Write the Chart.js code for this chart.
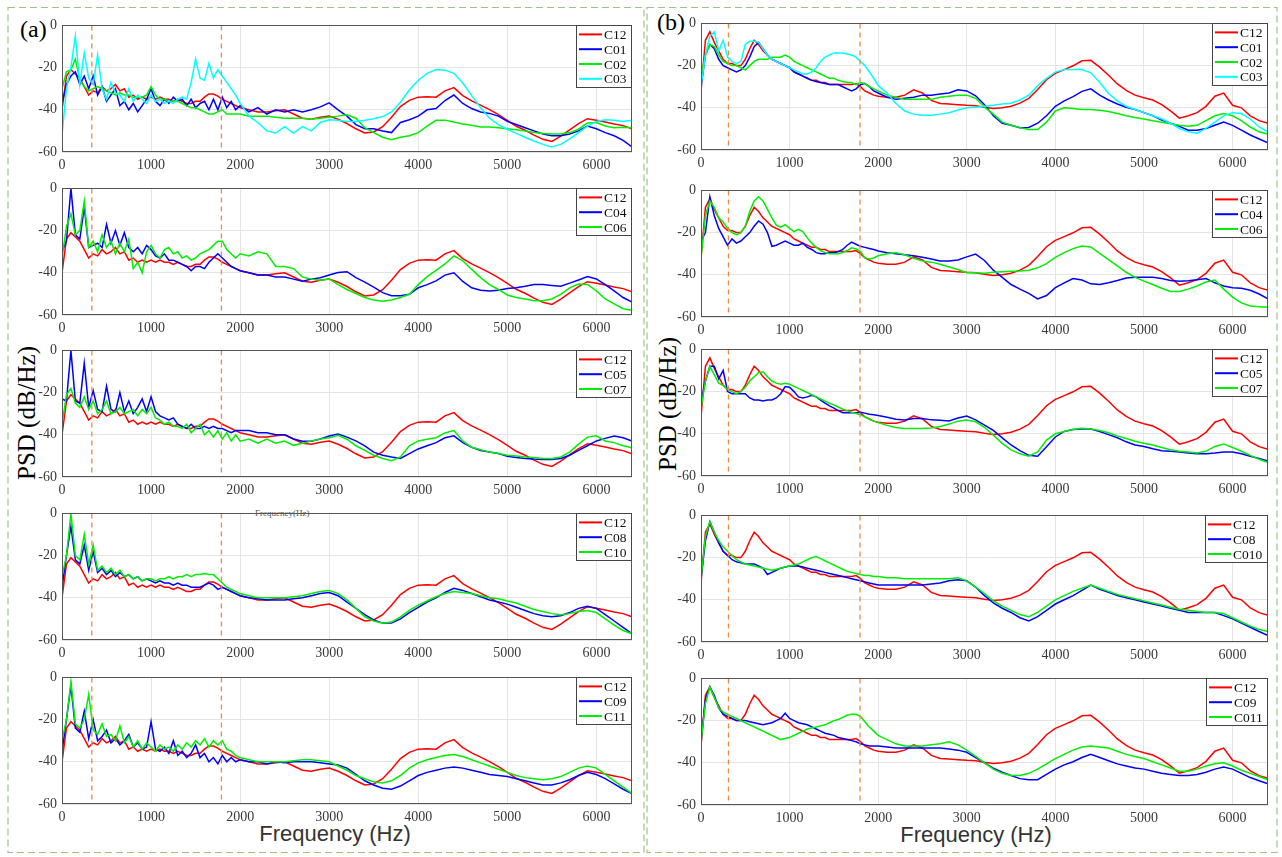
<!DOCTYPE html>
<html><head><meta charset="utf-8">
<script src="https://cdn.jsdelivr.net/npm/chart.js@4.4.1/dist/chart.umd.min.js"></script>
<style>
html,body{margin:0;padding:0;background:#fff;}
#wrap{position:relative;width:1282px;height:857px;overflow:hidden;background:#fff;}
canvas{position:absolute;}
.t{position:absolute;font-family:"Liberation Serif","Times New Roman",serif;color:#000;white-space:nowrap;line-height:1;}
.s{position:absolute;font-family:"Liberation Sans",Arial,sans-serif;color:#333;white-space:nowrap;line-height:1;}
</style></head><body><div id="wrap">
<svg width="1282" height="857" style="position:absolute;left:0;top:0">
<rect x="8" y="7.5" width="636" height="845" fill="none" stroke="#9dc386" stroke-width="1.2" stroke-dasharray="7,4"/>
<rect x="647" y="7.5" width="630" height="845" fill="none" stroke="#9dc386" stroke-width="1.2" stroke-dasharray="7,4"/>
</svg>
<div class="t" style="left:20px;top:17px;font-size:24px;">(a)</div>
<div class="t" style="left:657px;top:10px;font-size:24px;">(b)</div>
<div class="t" style="left:26px;top:413px;font-size:25px;transform:translate(-50%,-50%) rotate(-90deg);">PSD (dB/Hz)</div>
<div class="t" style="left:667px;top:404px;font-size:25px;transform:translate(-50%,-50%) rotate(-90deg);">PSD (dB/Hz)</div>
<div class="s" style="left:335px;top:834px;font-size:22px;transform:translate(-50%,-50%);">Frequency (Hz)</div>
<div class="s" style="left:976px;top:835px;font-size:22px;transform:translate(-50%,-50%);">Frequency (Hz)</div>
<div class="t" style="left:255px;top:509px;font-size:9px;color:#555;">Frequency(Hz)</div>
</div>
<script>
// ---------------- DATA ----------------
const freq = [0,50,100,150,200,250,300,350,400,450,500,550,600,650,700,750,800,850,900,950,
  1000,1050,1100,1150,1200,1250,1300,1350,1400,1450,1500,1550,1600,1650,1700,1750,1800,1850,1900,1950,2000,
  2100,2200,2300,2400,2500,2600,2700,2800,2900,3000,3100,3200,3300,3400,3500,3600,3700,3800,3900,4000,
  4100,4200,4300,4400,4500,4600,4700,4800,4900,5000,5100,5200,5300,5400,5500,5600,5700,5800,5900,6000,
  6100,6200,6300,6400];
const xTicks = [0,1000,2000,3000,4000,5000,6000];
const yTicks = [-60,-40,-20,0];
const markerA = [335, 1790];
const markerB = [310, 1795];

// panel (a)
const c12a = [-40,-24,-21,-23,-25,-29,-33,-31,-32,-29, -31,-30,-28,-31,-30,-34,-33,-35,-34,-35,
  -34,-35,-34,-35,-35,-36,-35,-36,-37,-37, -36,-36,-34,-32.5,-32.5,-33.5,-35,-36,-37,-38, -39,
  -40,-41,-41,-40.5,-40,-42,-44,-44.5,-43.5,-43, -44.5,-46.5,-49,-51,-50.5,-48,-43.5,-38.5,-35.5,-34,
  -33.8,-34,-31,-29.5,-33.3,-35.8,-37.8,-39.9,-42.3,-45, -47.8,-49.7,-52,-54,-55,-52.5,-49.5,-46.5,-44.2,-45,
  -45.8,-46.7,-47.5,-49];
const c01a = [-37,-28,-24,-22,-28,-24,-30,-24,-33,-29, -36,-33,-30,-38,-36,-40,-37,-41,-38,-35,
  -30,-36,-38,-35,-37,-34,-36,-35,-38,-35, -39,-37,-36,-40,-35,-40,-34,-39,-36,-40, -38,
  -41,-39,-42,-40,-41,-40,-41,-40,-38.6,-36.7, -40,-43,-47,-49,-49,-50,-50.8,-46,-44.7,-43,
  -40,-39.4,-35.6,-33,-37,-39.4,-41,-41.7,-43,-45.5, -47,-48.5,-50,-51.5,-52.3,-52.3,-51.5,-50,-47.7,-49,
  -50.8,-52.3,-54.5,-57.6];
const c02a = [-30,-22,-21,-16,-26,-29,-31,-30,-29,-30, -31,-32,-33,-32,-33,-33,-34,-34,-34,-33,
  -29,-33,-35,-35,-36,-36,-36,-37,-38,-39, -39,-40,-41,-42,-42,-41,-40,-42,-42,-42, -42,
  -43,-43,-43,-43.5,-44,-44,-44,-44.5,-44,-43.5, -43,-42.4,-44,-48.5,-50.8,-53,-54.2,-53,-52.3,-50.8,
  -47.7,-45,-44.9,-45.8,-46.7,-47.3,-48.2,-48.2,-48.5,-49, -49.5,-50,-50.8,-51.2,-51.5,-51.5,-50.8,-49.2,-46.2,-46,
  -47.7,-48.5,-48.3,-48.5];
const c03a = [-52,-30,-20,-5,-28,-13,-25,-28,-14,-30, -35,-27,-32,-33,-36,-30,-36,-33,-35,-37,
  -33,-36,-35,-37,-36,-37,-35,-34,-35,-27, -16,-25,-26,-18,-25,-21,-24,-27,-30,-33, -37,
  -43,-46,-50,-51,-48,-51,-48,-50,-46,-44.7, -45,-45.5,-45.5,-45,-44.2,-43.2,-41,-36.4,-30.6,-26,
  -22.7,-20.9,-21.2,-22.7,-27.3,-33.3,-39,-44,-47,-49.2, -51.2,-53,-54.8,-56.4,-57.6,-56.4,-53.8,-50.8,-47.7,-45.5,
  -44.7,-45,-45.5,-45];
const c04a = [-30,-25,0,-22,-24,-9,-28,-27,-26,-28, -17,-26,-20,-27,-21,-28,-30,-28,-31,-27,
  -29,-32,-33,-31,-34,-34,-35,-36,-37,-39, -37,-37,-38,-35,-33,-31,-33,-35,-37,-38, -39,
  -40,-41,-41,-42,-42,-43,-44,-43,-42.3,-41, -39.9,-39.5,-42.3,-44.4,-46.8,-49.4,-50.9,-50.9,-50.2,-47.1,
  -45.6,-43.8,-41.1,-40,-44.1,-47.1,-48.3,-48.6,-48.3,-47.4, -47.1,-46.4,-45.6,-45.6,-46,-46.4,-44.9,-43.4,-41.8,-42.9,
  -45.6,-48.6,-51.7,-53.9];
const c06a = [-33,-18,-12,-22,-20,-6,-28,-25,-30,-22, -28,-25,-31,-26,-30,-24,-38,-35,-40,-30,
  -27,-31,-33,-29,-28,-31,-30,-33,-32,-34, -33,-31,-30,-29,-27,-25,-25,-29,-31,-33, -31,
  -32,-30,-31,-37,-37,-38,-42,-43,-43.5,-42.9, -45.6,-47.9,-49.8,-51.7,-52.9,-53.5,-52.9,-51.7,-50.2,-45.6,
  -41.8,-38.8,-35.8,-32,-34.3,-38.4,-42.3,-45.6,-47.9,-50.5, -51.7,-52.4,-53.2,-53.2,-52.4,-50.2,-47.1,-45.3,-45.5,-48.6,
  -52.4,-54.7,-57,-57.7];
const c05a = [-23,-24,0,-24,-25,-6,-27,-19,-28,-29, -17,-28,-29,-20,-29,-24,-30,-27,-23,-29,
  -22,-29,-31,-32,-33,-32,-35,-36,-37,-35, -37,-37,-36,-37,-36,-37,-37,-38,-39,-38, -38,
  -38,-39,-39,-40,-40,-42,-43,-43,-42,-40.6, -39.6,-41.1,-42.9,-45.2,-48.2,-49.7,-50.5,-51.2,-48.9,-46.7,
  -45.2,-43.7,-41.4,-40.5,-43.7,-45.9,-47.4,-48.2,-48.9,-50.2, -50.8,-51.2,-51.5,-51.7,-51.7,-51.2,-49.7,-47.4,-45.2,-42.9,
  -41.7,-40.6,-41.4,-43];
const c07a = [-35,-21,-18,-25,-27,-22,-28,-24,-30,-28, -24,-30,-29,-27,-30,-29,-28,-31,-28,-30,
  -27,-32,-33,-35,-34,-36,-36,-37,-35,-39, -37,-35,-40,-38,-41,-38,-42,-39,-43,-40, -43,
  -42,-44,-42,-44,-43,-45,-44,-43,-42,-41.4, -40.2,-42.1,-45.2,-47.4,-49.7,-51.2,-52.3,-50.5,-45.2,-42.9,
  -42.1,-41.4,-39.1,-38,-42.9,-45.9,-47.1,-48.2,-48.9,-49.7, -50.1,-50.5,-50.8,-51.2,-51.2,-50.5,-48.2,-44.4,-41.1,-40.5,
  -42.9,-43.7,-45.2,-46.2];
const c08a = [-35,-20,-6,-22,-24,-15,-27,-18,-28,-26, -29,-27,-30,-28,-30,-29,-31,-30,-32,-31,
  -32,-33,-32,-33,-33,-34,-33,-34,-34,-35, -35,-35,-34,-33,-34,-36,-35,-36,-37,-38, -39,
  -40,-40.5,-41,-41,-41,-40.5,-40,-39,-38,-37.5, -39,-42,-45,-48,-50.5,-52,-52,-50,-47,-44.5,
  -42,-40,-37.5,-35.5,-36.5,-38,-39.5,-41,-42,-43, -44.5,-46,-47.5,-48.5,-49,-48.5,-47,-45,-44,-45,
  -48,-51,-54,-57];
const c10a = [-30,-20,0,-20,-22,-10,-24,-15,-27,-25, -28,-26,-29,-27,-30,-29,-31,-30,-32,-31,
  -31,-32,-31,-31,-30,-31,-30,-30,-29,-30, -29,-29,-28.5,-29,-29,-31,-33,-35,-36,-37, -38,
  -39,-40,-40,-40,-40,-39.5,-39,-38,-37,-36.5, -38,-41,-45,-49,-51,-52,-51.5,-49,-46,-43.5,
  -41.5,-39.5,-38,-37,-37.5,-38,-39,-40,-40.5,-41.5, -42.5,-44,-45.5,-46.5,-47.5,-48,-47.5,-46.5,-46,-47,
  -50,-53,-55.5,-57];
const c09a = [-35,-20,-4,-24,-26,-16,-29,-20,-30,-28, -25,-31,-29,-32,-30,-27,-33,-31,-34,-33,
  -21,-34,-35,-33,-36,-30,-37,-35,-38,-36, -32,-38,-36,-40,-38,-41,-37,-40,-38,-40, -39,
  -40,-40,-41,-40,-40.5,-40,-40,-40,-40.5,-41, -41.5,-43,-46,-49,-51,-52.5,-53,-51.5,-49,-46.5,
  -45,-44,-43,-42.5,-43,-44,-45,-46,-46.5,-47, -48,-49,-50,-51,-51,-50,-48.5,-46.5,-45,-46,
  -48,-50.5,-53,-55];
const c11a = [-30,-20,-2,-22,-24,-20,-8,-25,-27,-22, -28,-27,-30,-23,-31,-28,-33,-30,-34,-31,
  -33,-35,-32,-34,-33,-35,-32,-34,-31,-33, -30,-32,-29,-33,-30,-32,-30,-34,-35,-37, -38,
  -39,-40,-40,-40,-40,-39.5,-39,-39,-39.5,-40, -42,-44,-46.5,-48,-49.5,-50,-49,-46.5,-43,-40.5,
  -39,-38,-37,-36.5,-37.5,-39,-40.5,-42,-43.5,-45, -46.5,-47.5,-48,-48.5,-48,-47,-45,-43,-42,-43,
  -46,-49,-52,-55];

// panel (b)
const c12b = [-32,-8,-4,-9,-13,-17,-19,-19,-20,-20, -17,-12,-8,-10,-13,-15,-17,-18,-19,-20,
  -21,-23,-24,-25,-26,-27,-27,-28,-28,-29, -29,-29,-29,-29,-29,-28.5,-30,-32,-33,-34, -34.5,
  -35,-35,-34,-31.5,-33,-36.5,-38,-38.2,-38.5,-38.8, -39,-39.7,-40.3,-40,-39.3,-37.8,-35.5,-31.3,-26.7,-23.7,
  -21.9,-20.1,-17.7,-17.5,-20.7,-24.6,-28.7,-31.7,-34,-35.2, -36.3,-38.5,-41.5,-44.9,-43.8,-42.3,-39.3,-34.5,-33,-38.8,
  -40,-43.8,-46.1,-47.3];
const c01b = [-30,-15,-10,-12,-17,-20,-21,-22,-23,-22, -20,-16,-11,-9,-12,-15,-17,-18,-19,-20,
  -21,-23,-24,-25,-26,-27,-27.5,-28,-28.5,-29, -29,-29,-30,-31,-32,-31,-29,-28.5,-30,-32, -33,
  -35,-36,-35.5,-35,-34,-34,-33.5,-33,-31.5,-32, -34.3,-38.5,-43.8,-47.3,-48.3,-49.5,-49.3,-47.3,-43.8,-39.3,
  -36.7,-34.7,-32.2,-31,-34,-36.3,-38.2,-39.7,-40.8,-42.3, -43.8,-45.8,-47.3,-48.8,-50.6,-50.6,-49.8,-48.3,-46.8,-48.3,
  -50.6,-52.9,-54.8,-56.6];
const c02b = [-25,-15,-10,-11,-15,-18,-19,-20,-20,-21, -22,-20,-18,-17,-17,-17,-16,-16,-16,-15,
  -16,-18,-19,-20,-21,-22,-23,-24,-25,-26, -26,-27,-27.5,-28,-28,-29,-28,-28.5,-30,-31, -32,
  -34,-35,-36,-36,-36,-36,-35,-34.5,-34,-34, -35.5,-39.7,-43,-46.8,-48.3,-49.4,-50.3,-50.3,-46.8,-41.5,
  -40,-40.3,-40.8,-40.8,-41.2,-41.8,-42.7,-43.8,-44.6,-45.3, -46.1,-46.8,-47.6,-48.3,-48.8,-48.3,-46.1,-43.8,-42.7,-43.8,
  -46.1,-49.1,-51.4,-52.4];
const c03b = [-30,-15,-6,-4,-13,-8,-16,-18,-19,-18, -10,-8.5,-8.5,-9,-12,-15,-17,-18,-19,-20,
  -21,-22,-23,-24,-24,-23,-21,-18,-16,-15, -14,-14,-14,-14.5,-15,-16,-18,-20,-23,-26, -29.5,
  -33,-38,-41.5,-43,-43.5,-43.5,-43,-42.3,-41,-40, -39.7,-39.3,-38.8,-38.2,-37.8,-36.3,-34,-29.5,-26.1,-23.1,
  -21.9,-21.9,-21.9,-23.4,-27.9,-33.2,-36.7,-39.3,-40.8,-42.3, -43.8,-45.3,-47.3,-49.8,-51.4,-52,-49.8,-46.8,-43.8,-42.3,
  -42.7,-45.3,-49.1,-51.4];
const c04b = [-24,-20,-3,-12,-18,-22,-26,-23,-25,-24, -22,-20,-17,-14.5,-16,-20,-26.5,-26,-25,-24,
  -25,-26,-26,-25,-27,-28,-29.5,-30,-30,-29.5, -29.5,-29,-28,-26,-24.5,-25.5,-26.5,-27,-27.5,-28, -28.7,
  -29.5,-30,-30.5,-31,-31.7,-32.5,-33.5,-33.5,-33,-31.5, -30.2,-33.2,-37.8,-41.2,-44.6,-46.8,-48.8,-51.4,-49.8,-46.1,
  -43.8,-41.8,-42.5,-44.3,-44.6,-43.8,-42.7,-41.5,-41.2,-41.2, -41.2,-41.8,-42.7,-43,-42.8,-42.3,-41.8,-43.8,-45.3,-46.1,
  -46.4,-47.3,-49.1,-51.4];
const c06b = [-32,-12,-5,-8,-13,-15,-18,-20,-21,-20, -17,-10,-5,-3,-5,-9,-13,-16.5,-17.4,-16.2,
  -18,-19.5,-18.5,-19.5,-22.5,-25,-27,-28.5,-29.5,-30, -30,-30,-29.5,-28.5,-27.2,-27.8,-29,-32,-32.5,-32, -31,
  -30,-29.5,-30.5,-32.2,-33.5,-34,-35,-36.3,-37.5,-39, -39,-39.3,-38.8,-38.5,-38.3,-38.2,-37.8,-36.7,-34.7,-31.7,
  -29.5,-27.6,-26.4,-26.8,-29.8,-32.8,-35.8,-38.8,-41.2,-43, -44.6,-46.4,-47.9,-47.9,-46.8,-45.3,-43.4,-42.5,-46.8,-50.6,
  -53.3,-54.8,-55.1,-55.4];
const c05b = [-25,-15,-8,-8,-14,-10,-20,-21,-21,-21, -21,-23,-24,-24,-24.5,-24,-24,-23,-21,-17.6,
  -17.9,-20,-22.5,-23,-22.5,-21.7,-22.5,-24,-25.5,-26.8, -27.8,-29,-30,-30,-30,-30,-29.8,-30.2,-30.7,-31, -31.3,
  -32.2,-33.1,-33.5,-32.8,-32.8,-33.4,-33.6,-33.9,-32.5,-31.6, -33.4,-35.9,-38.4,-41.9,-45.3,-48,-50.2,-50.6,-46.1,-41.5,
  -38.9,-38,-37.7,-37.7,-38.9,-40.4,-41.9,-43.8,-45.3,-46, -47.1,-48,-48.3,-48.6,-49.1,-49.5,-49.5,-49.1,-48.6,-48.6,
  -49.5,-50.6,-51.7,-52.9];
const c07b = [-28,-15,-8,-12,-16,-17,-19,-20,-21,-20, -18,-15,-13,-11,-10.6,-13,-15,-16,-16.5,-16,
  -16.5,-17.5,-18.5,-19.5,-20.5,-21.5,-22.5,-23.5,-24.5,-25.5, -26.3,-27.3,-28.3,-29,-29.8,-30.4,-31,-32,-33,-34, -34.7,
  -36,-37,-37.5,-37.5,-37.5,-37.2,-36.5,-35.4,-34,-33.5, -34.3,-36.9,-40.7,-44.5,-47.6,-49.5,-50.6,-48.6,-43,-40,
  -38.9,-38,-37.4,-37.7,-38.4,-39.5,-41,-42.2,-43.5,-44.5, -45.3,-46.5,-47.6,-48.3,-48.6,-49.1,-48.3,-46,-44.8,-46.5,
  -48.3,-50.2,-52.1,-53.6];
const c08b = [-30,-12,-3,-8,-13,-17,-19,-21,-22,-22.5, -23,-23,-23,-24,-25,-28,-27,-26,-25,-24.5,
  -24,-24,-24,-24.5,-25,-25.5,-26,-26.5,-27,-27.5, -28,-28.5,-29,-29.5,-30,-30.5,-31,-31.5,-32,-32.5, -33,
  -33,-33,-33,-33,-33,-32.5,-32,-31,-30.5,-31, -34,-38,-41.5,-44,-46,-48.5,-50,-48,-45,-42,
  -40,-38,-35.5,-33,-35,-36.5,-38,-39,-40,-41, -42,-43,-44,-45,-46,-46,-46,-46,-47.5,-49,
  -51,-53,-55,-57];
const c010b = [-30,-10,-3,-8,-12,-15,-17,-19,-21,-22, -23,-23.5,-24,-24.5,-25,-25.5,-26,-25.5,-25,-24.5,
  -24,-23.5,-23,-22,-21,-20,-19.5,-20.5,-21.5,-22.5, -23.5,-24.5,-25.5,-26.5,-27,-27.5,-28,-28.5,-28.5,-29, -29,
  -29.5,-29.5,-30,-30,-30,-30,-30,-30,-29.5,-31, -34,-37,-40.5,-43,-45,-47,-48,-46,-43,-40,
  -38,-36,-34.5,-33,-34.5,-36,-37.5,-38.5,-39.5,-40.5, -41.5,-42.5,-43.5,-44.5,-45,-45.5,-46,-46,-46.5,-48.5,
  -50.5,-52.5,-54,-55];
const c09b = [-30,-10,-4,-8,-14,-17,-18,-19,-20,-20, -20,-20.5,-21,-21.5,-22,-21.5,-21,-20,-19,-16.5,
  -19,-20,-21,-21.5,-22,-23,-24,-25,-26,-26.5, -27,-28,-28.5,-29,-29.5,-30,-31,-31.5,-32,-32, -32,
  -32.5,-33,-33,-33,-33,-33,-33,-33.5,-34,-35, -37.5,-40,-42.5,-44.5,-46,-47.5,-48,-48,-45.5,-43,
  -41,-39.5,-37.5,-36,-37.5,-39,-40.5,-41.5,-42.5,-43, -44,-45,-45.5,-46,-46,-45.5,-44.5,-43,-42,-43,
  -45,-47,-48.5,-50];
const c011b = [-30,-12,-4,-9,-14,-16,-17,-18,-19,-20, -21,-22,-23,-24,-25,-26,-27,-28,-29,-28.5,
  -28,-27,-26,-25,-24,-23.5,-23,-22.5,-22,-21, -20,-19.5,-18.5,-17.5,-17,-17,-18,-20.5,-23,-25, -27,
  -29,-31,-32,-32,-32,-31.5,-31,-30,-31.5,-34, -37,-40,-43,-45,-46,-46,-45,-43,-40.5,-38,
  -36,-34,-32.5,-32,-32.5,-33,-34.5,-36,-37,-38, -39.5,-41,-42.5,-44,-44,-43,-41.5,-40.5,-40,-41.5,
  -43.5,-45,-46.5,-48];

const rowsA = [
  {names:['C12','C01','C02','C03'], series:[c12a,c01a,c02a,c03a]},
  {names:['C12','C04','C06'], series:[c12a,c04a,c06a]},
  {names:['C12','C05','C07'], series:[c12a,c05a,c07a]},
  {names:['C12','C08','C10'], series:[c12a,c08a,c10a]},
  {names:['C12','C09','C11'], series:[c12a,c09a,c11a]}
];
const rowsB = [
  {names:['C12','C01','C02','C03'], series:[c12b,c01b,c02b,c03b]},
  {names:['C12','C04','C06'], series:[c12b,c04b,c06b]},
  {names:['C12','C05','C07'], series:[c12b,c05b,c07b]},
  {names:['C12','C08','C010'], series:[c12b,c08b,c010b]},
  {names:['C12','C09','C011'], series:[c12b,c09b,c011b]}
];

// ---------------- STYLE / LAYOUT ----------------
const lineColors = ['#ff0000','#0000ff','#00ee00','#00ffff'];
const markerColor = '#f08a45';
const layoutA = {left:62, width:570, tops:[20,183,345,508,672], plotH:132};
const layoutB = {left:701, width:567, tops:[18,185,344,510,673], plotH:132};
const PADL = 50, PADT = 8, PADR = 8, PADB = 26;
const tickFont = {family:'"Liberation Serif", "Times New Roman", serif', size:14};

const framePlugin = {
  id:'frame',
  afterDatasetsDraw(chart){
    const a = chart.chartArea, ctx = chart.ctx;
    ctx.save();
    ctx.strokeStyle = '#555'; ctx.lineWidth = 1;
    ctx.strokeRect(Math.round(a.left)+0.5, Math.round(a.top)+0.5, Math.round(a.right-a.left)-1, Math.round(a.bottom-a.top)-1);
    ctx.restore();
  }
};
const legendPlugin = {
  id:'boxLegend',
  afterDatasetsDraw(chart){
    const ctx = chart.ctx, a = chart.chartArea;
    const items = chart.data.datasets.filter(d => d.inLegend);
    ctx.save();
    ctx.font = '13.5px "Liberation Serif", "Times New Roman", serif';
    let tw = 0; items.forEach(d => { tw = Math.max(tw, ctx.measureText(d.label).width); });
    const rowH = 14.8, w = Math.ceil(30 + tw + 3), h = Math.round(items.length*rowH + 4);
    const x0 = Math.round(a.right) - w, y0 = Math.round(a.top);
    ctx.fillStyle = '#fff'; ctx.fillRect(x0, y0, w, h);
    ctx.strokeStyle = '#444'; ctx.lineWidth = 1; ctx.strokeRect(x0+0.5, y0+0.5, w-1, h-1);
    ctx.textBaseline = 'middle';
    items.forEach((d,i) => {
      const cy = y0 + 2 + rowH*(i+0.5);
      ctx.strokeStyle = d.borderColor; ctx.lineWidth = 2;
      ctx.beginPath(); ctx.moveTo(x0+3, cy); ctx.lineTo(x0+26, cy); ctx.stroke();
      ctx.fillStyle = '#111'; ctx.fillText(d.label, x0+28, cy+1);
    });
    ctx.restore();
  }
};

function makeChart(layout, rowIdx, row, markers){
  const wrap = document.getElementById('wrap');
  const cv = document.createElement('canvas');
  const W = layout.width + PADL + PADR, H = layout.plotH + PADT + PADB;
  cv.width = W; cv.height = H;
  cv.style.left = (layout.left - PADL) + 'px';
  cv.style.top = (layout.tops[rowIdx] - PADT) + 'px';
  cv.style.width = W + 'px'; cv.style.height = H + 'px';
  wrap.appendChild(cv);
  const n = row.series.length;
  const datasets = row.series.map((vals, i) => ({
    label: row.names[i], inLegend: true,
    data: freq.map((f, k) => ({x: f, y: vals[k]})),
    borderColor: lineColors[i], borderWidth: 1.5, pointRadius: 0, fill: false,
    order: n - i + 1
  }));
  markers.forEach(m => datasets.push({
    label: 'marker', inLegend: false,
    data: [{x: m, y: 0}, {x: m, y: -60}],
    borderColor: markerColor, borderWidth: 1.3, borderDash: [5,4], pointRadius: 0, fill: false, order: 0
  }));
  new Chart(cv.getContext('2d'), {
    type: 'line',
    data: {datasets},
    options: {
      responsive: false, animation: false, events: [], devicePixelRatio: 1,
      layout: {padding: {left: 0, top: PADT, right: PADR, bottom: 0}},
      plugins: {legend: {display: false}, tooltip: {enabled: false}},
      elements: {line: {tension: 0}},
      scales: {
        x: {type: 'linear', min: 0, max: 6400,
            afterFit: s => { s.height = PADB; },
            afterBuildTicks: s => { s.ticks = xTicks.map(v => ({value: v})); },
            ticks: {autoSkip: false, maxRotation: 0, minRotation: 0,
                    font: tickFont, color: '#3a3a3a', padding: 5, callback: v => String(v)},
            grid: {color: '#e4e4e4', drawTicks: false}, border: {display: false}},
        y: {type: 'linear', min: -60, max: 0,
            afterFit: s => { s.width = PADL; },
            afterBuildTicks: s => { s.ticks = yTicks.map(v => ({value: v})); },
            ticks: {autoSkip: false, font: tickFont, color: '#3a3a3a', padding: 5, callback: v => String(v)},
            grid: {color: '#e4e4e4', drawTicks: false}, border: {display: false}}
      }
    },
    plugins: [framePlugin, legendPlugin]
  });
}

rowsA.forEach((row, i) => makeChart(layoutA, i, row, markerA));
rowsB.forEach((row, i) => makeChart(layoutB, i, row, markerB));
</script>
</body></html>
